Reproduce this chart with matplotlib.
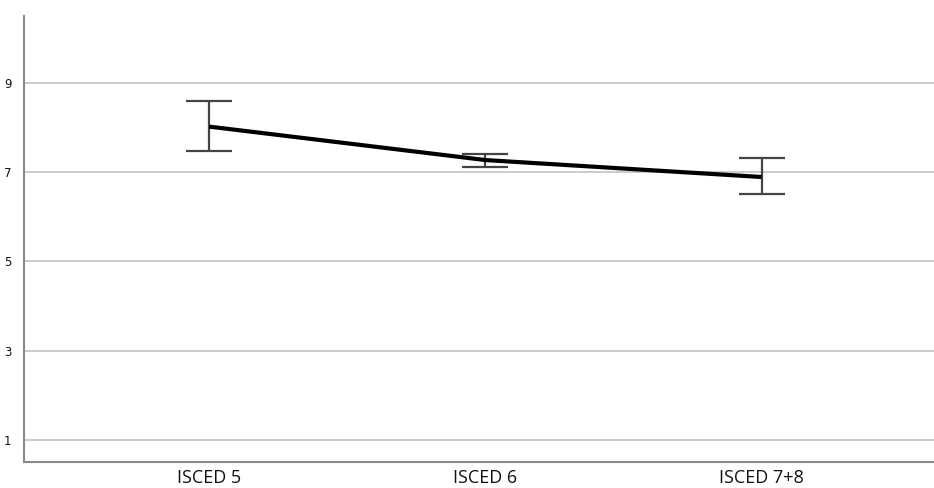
import matplotlib
matplotlib.use("Agg")
import matplotlib.pyplot as plt
import numpy as np

# data
categories = ["ISCED 5", "ISCED 6", "ISCED 7+8"]
means = [8.02, 7.27, 6.89]
upper = [8.59, 7.41, 7.31]
lower = [7.47, 7.12, 6.50]

x = np.arange(len(categories))
means = np.array(means)
yerr = [means - np.array(lower), np.array(upper) - means]

fig = plt.figure(figsize=(9.34, 4.88), dpi=100)
ax = fig.add_axes([24 / 934, 1 - 462 / 488, 1 - 24 / 934, (462 - 16) / 488])

# grid
for v in [1, 3, 5, 7, 9]:
    ax.axhline(v, color="#c8c8c8", lw=1.3, zorder=0)

ax.errorbar(x, means, yerr=yerr, fmt="none", ecolor="#444444", elinewidth=1.6,
            capsize=16.5, capthick=1.6, zorder=2)
ax.plot(x, means, color="black", lw=3.0, zorder=3, solid_capstyle="butt")

ax.set_xlim(-0.67, 2.624)
ax.set_ylim(0.5, 10.5)
ax.set_yticks([1, 3, 5, 7, 9])
ax.set_xticks(x)
ax.set_xticklabels(categories, fontsize=13, family="Open Sans", color="#111111")
ax.tick_params(axis="y", length=0, labelsize=8.5, pad=9, colors="#111111")
ax.tick_params(axis="x", length=0, pad=5)

for s in ["top", "right"]:
    ax.spines[s].set_visible(False)
for s in ["left", "bottom"]:
    ax.spines[s].set_color("#8a8a8a")
    ax.spines[s].set_linewidth(1.5)

fig.savefig("out.png", dpi=100)
